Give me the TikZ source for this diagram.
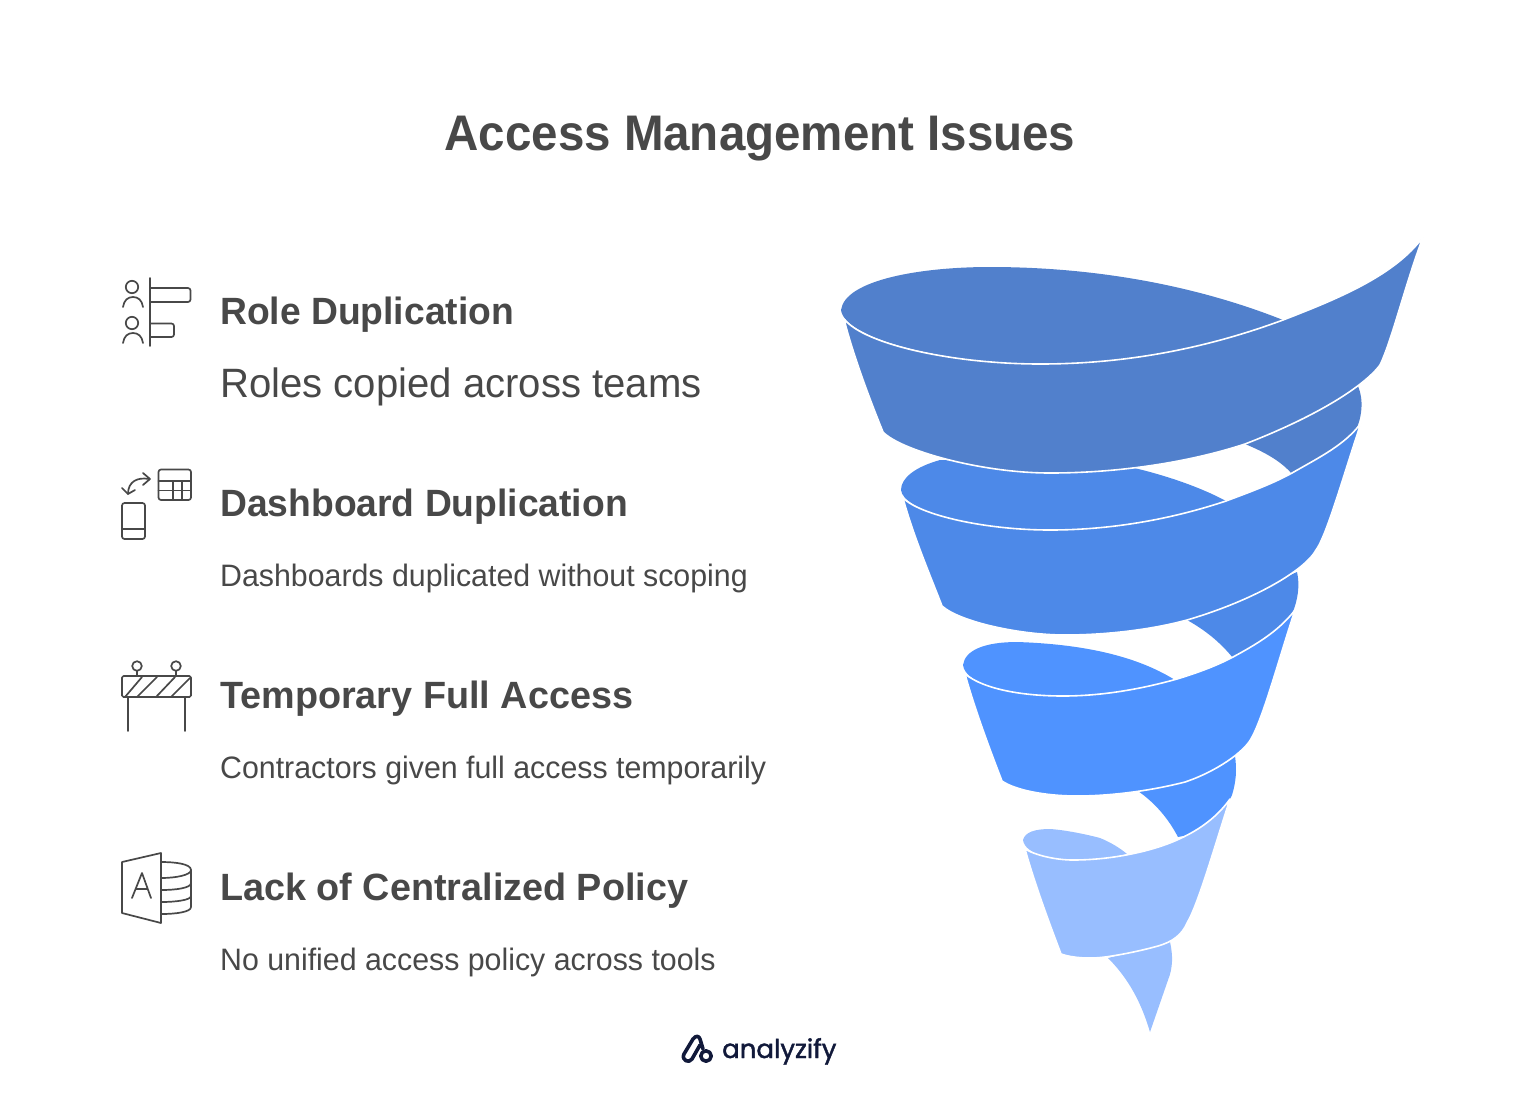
\documentclass[tikz,border=0pt]{standalone}
\usepackage{fontspec}
\setmainfont{Liberation Sans}
\newfontfamily\titlefont[FakeStretch=0.95]{Liberation Sans}
\newfontfamily\headfont[FakeStretch=0.98]{Liberation Sans}
\newfontfamily\headwidefont[FakeStretch=0.994]{Liberation Sans}
\newfontfamily\descfont[FakeStretch=0.978]{Liberation Sans}
\newfontfamily\logofont[FakeBold=1.6]{Poppins}

\definecolor{bandA}{HTML}{5180CC}
\definecolor{bandB}{HTML}{4D89E8}
\definecolor{bandC}{HTML}{4F93FF}
\definecolor{bandD}{HTML}{98BEFF}
\definecolor{inkgray}{HTML}{484848}
\definecolor{logonavy}{HTML}{11193A}

\begin{document}
\begin{tikzpicture}[x=1pt,y=-1pt]

      % Styles for the funnel, the texts and the line icons
      \tikzstyle{band}=[draw=white,line width=1.6pt,line join=round]
      \tikzstyle{title}=[anchor=base,inner sep=0,text=inkgray,font=\titlefont\fontsize{50}{60}\selectfont\bfseries]
      \tikzstyle{head}=[anchor=base west,inner sep=0,text=inkgray,font=\headfont\fontsize{38}{46}\selectfont\bfseries]
      \tikzstyle{headwide}=[head,font=\headwidefont\fontsize{38}{46}\selectfont\bfseries]
      \tikzstyle{desc}=[anchor=base west,inner sep=0,text=inkgray,font=\descfont\fontsize{31}{38}\selectfont]
      \tikzstyle{icon}=[draw=inkgray,line width=1.7pt,line cap=round,line join=round]
      \tikzstyle{logoline}=[draw=logonavy,line width=3.6pt,line join=round,line cap=round]

      \useasboundingbox (0,0) rectangle (1520,1112);

      \node [title] (title) at (760,150) {Access Management Issues};

      % Back parts of the ribbon
      \fill [bandA] (1245,444) -- (1358,386) .. controls (1364,400) and (1362,418) .. (1355,432) -- (1330,470) -- (1292,474) .. controls (1280,460) and (1262,451) .. (1245,444) -- cycle;
      \fill [bandB] (1187,620) -- (1297,572) .. controls (1300,585) and (1298,600) .. (1292,614) -- (1270,650) -- (1233,658) .. controls (1220,642) and (1205,630) .. (1187,620) -- cycle;
      \fill [bandC] (1138,791) -- (1235,756) .. controls (1237,770) and (1236,782) .. (1232,795) -- (1215,830) -- (1178,837) .. controls (1168,818) and (1155,803) .. (1138,791) -- cycle;
      \fill [bandD] (1108,958) -- (1170,942) .. controls (1173,955) and (1173,968) .. (1168,980) -- (1150,1032) .. controls (1142,1005) and (1130,980) .. (1108,958) -- cycle;

      % Top faces of the ribbon
      \fill [bandA] (841,310) .. controls (845,280) and (920,267) .. (990,267) .. controls (1100,267) and (1200,287) .. (1283,320) .. controls (1210,347) and (1130,364) .. (1040,364) .. controls (950,364) and (845,340) .. (841,310) -- cycle;
      \fill [bandB] (940,460) .. controls (915,467) and (901,478) .. (901,490) .. controls (903,510) and (970,530) .. (1050,530) .. controls (1115,530) and (1175,518) .. (1226,501) .. controls (1200,487) and (1165,475) .. (1130,467) -- cycle;
      \fill [bandC] (963,665) .. controls (965,650) and (985,642) .. (1017,642) .. controls (1080,644) and (1135,655) .. (1175,680) .. controls (1145,688) and (1105,696) .. (1063,696) .. controls (1015,696) and (965,685) .. (963,665) -- cycle;
      \fill [bandD] (1023,840) .. controls (1025,832) and (1035,829) .. (1050,829) .. controls (1065,830) and (1085,834) .. (1100,838) .. controls (1110,842) and (1120,848) .. (1127,854) .. controls (1110,858) and (1090,860) .. (1073,860) .. controls (1055,860) and (1025,855) .. (1023,840) -- cycle;

      % Front faces, lowest first so that their white edge cuts what lies behind
      \filldraw [band,fill=bandD] (1025,849) .. controls (1035,855) and (1055,860) .. (1073,860) .. controls (1115,860) and (1155,850) .. (1177,840) .. controls (1195,832) and (1215,820) .. (1230,799) .. controls (1215,845) and (1198,905) .. (1187,923) .. controls (1182,935) and (1172,942) .. (1158,946) .. controls (1140,951) and (1120,955) .. (1105,957) .. controls (1090,959) and (1072,958) .. (1061,954) .. controls (1050,925) and (1035,885) .. (1025,849) -- cycle;
      \filldraw [band,fill=bandC] (965,674) .. controls (985,690) and (1025,696) .. (1063,696) .. controls (1105,696) and (1145,688) .. (1177,679) .. controls (1200,672) and (1218,665) .. (1233,657) .. controls (1255,645) and (1278,632) .. (1295,610) .. controls (1280,655) and (1264,715) .. (1252,737) .. controls (1245,752) and (1215,772) .. (1185,782) .. controls (1150,791) and (1110,796) .. (1077,796) .. controls (1045,796) and (1015,790) .. (1002,781) .. controls (990,750) and (975,710) .. (965,674) -- cycle;
      \filldraw [band,fill=bandB] (903,498) .. controls (920,515) and (985,530) .. (1050,530) .. controls (1115,530) and (1175,518) .. (1226,501) .. controls (1250,492) and (1272,484) .. (1292,473) .. controls (1318,458) and (1345,445) .. (1361,423) .. controls (1345,470) and (1327,535) .. (1316,550) .. controls (1305,570) and (1255,600) .. (1187,620) .. controls (1150,630) and (1105,635) .. (1065,635) .. controls (1020,635) and (960,622) .. (942,606) .. controls (930,575) and (913,535) .. (903,498) -- cycle;
      \filldraw [band,fill=bandA] (844,319) .. controls (865,345) and (955,364) .. (1040,364) .. controls (1130,364) and (1210,347) .. (1283,320) .. controls (1340,298) and (1395,275) .. (1423,237) .. controls (1405,285) and (1392,340) .. (1380,365) .. controls (1365,385) and (1320,415) .. (1245,444) .. controls (1190,462) and (1120,473) .. (1050,473) .. controls (980,473) and (900,450) .. (883,432) .. controls (870,400) and (853,355) .. (844,319) -- cycle;

      % Left column of texts
      \node [head] (role)      at (220,324.5) {Role Duplication};
      \node [desc,font=\descfont\fontsize{41}{46}\selectfont] (roletext) at (220,397) {Roles copied across teams};
      \node [head] (dash)      at (220,516.5) {Dashboard Duplication};
      \node [desc] (dashtext)  at (220,586) {Dashboards duplicated without scoping};
      \node [headwide] (temp)  at (220,708.5) {Temporary Full Access};
      \node [desc] (temptext)  at (220,778) {Contractors given full access temporarily};
      \node [headwide] (lack)  at (220,900.5) {Lack of Centralized Policy};
      \node [desc] (lacktext)  at (220,970) {No unified access policy across tools};

      % Icon: people and bars
      \draw [icon] (150,278) -- (150,346);
      \draw [icon,rounded corners=2.5pt] (150,288) -- (190.5,288) -- (190.5,302) -- (150,302);
      \draw [icon,rounded corners=2.5pt] (150,323.5) -- (174,323.5) -- (174,337) -- (150,337);
      \draw [icon] (132,287) circle [radius=6.2];
      \draw [icon] (132,323) circle [radius=6.2];
      \draw [icon] (123,307) .. controls (124,300) and (128,297) .. (133,297) .. controls (138,297) and (142,300) .. (143,307);
      \draw [icon] (123,343) .. controls (124,336) and (128,333) .. (133,333) .. controls (138,333) and (142,336) .. (143,343);

      % Icon: phone, arrows and table
      \draw [icon,rounded corners=2.5pt] (158.5,469.5) rectangle (191,500);
      \draw [icon] (158.5,481) -- (191,481) (158.5,490.5) -- (191,490.5) (173,481) -- (173,500) (182,481) -- (182,500);
      \draw [icon,rounded corners=2.5pt] (122,503) rectangle (145,539);
      \draw [icon] (122,529) -- (145,529);
      \draw [icon] (149,479) .. controls (138,477) and (128,481) .. (128,494);
      \draw [icon] (143,473) -- (150,479) -- (143,485);
      \draw [icon] (122,488) -- (128,494) -- (135,490);

      % Icon: road barrier
      \draw [icon,rounded corners=1.5pt] (122,676) rectangle (191,697);
      \draw [icon] (125,697) -- (142,677) (137,697) -- (157,677) (156,697) -- (175,677) (171,697) -- (190,678);
      \draw [icon] (128,697) -- (128,731) (185,697) -- (185,731);
      \draw [icon] (137,666) circle [radius=4.8];
      \draw [icon] (176,666) circle [radius=4.8];
      \draw [icon] (137,671) -- (137,676) (176,671) -- (176,676);

      % Icon: page with a letter and a database
      \draw [icon] (122,862) -- (161,853) -- (161,923) -- (122,913) -- cycle;
      \draw [icon] (132,898) -- (142,873) -- (151,898) (136,889) -- (147,889);
      \draw [icon] (161,862) .. controls (176,862) and (191,864) .. (191,870) .. controls (191,875) and (176,878) .. (161,878);
      \draw [icon] (191,870) -- (191,907) .. controls (191,912) and (176,914) .. (161,914);
      \draw [icon] (191,883) .. controls (191,888) and (176,890) .. (161,890);
      \draw [icon] (191,896) .. controls (191,900) and (176,902) .. (161,902);

      % Logo
      \draw [logoline] (700,1045) -- (692,1059) .. controls (689,1064) and (681,1060) .. (684,1054) -- (693,1039) .. controls (696,1035) and (699,1036) .. (700,1039) -- (703,1049);
      \draw [logoline] (706,1056) circle [radius=5.2];
      \node [anchor=base west,inner sep=0,text=logonavy,font=\logofont\fontsize{26}{30}\selectfont] (logo) at (722,1058) {analyzify};

\end{tikzpicture}
\end{document}
